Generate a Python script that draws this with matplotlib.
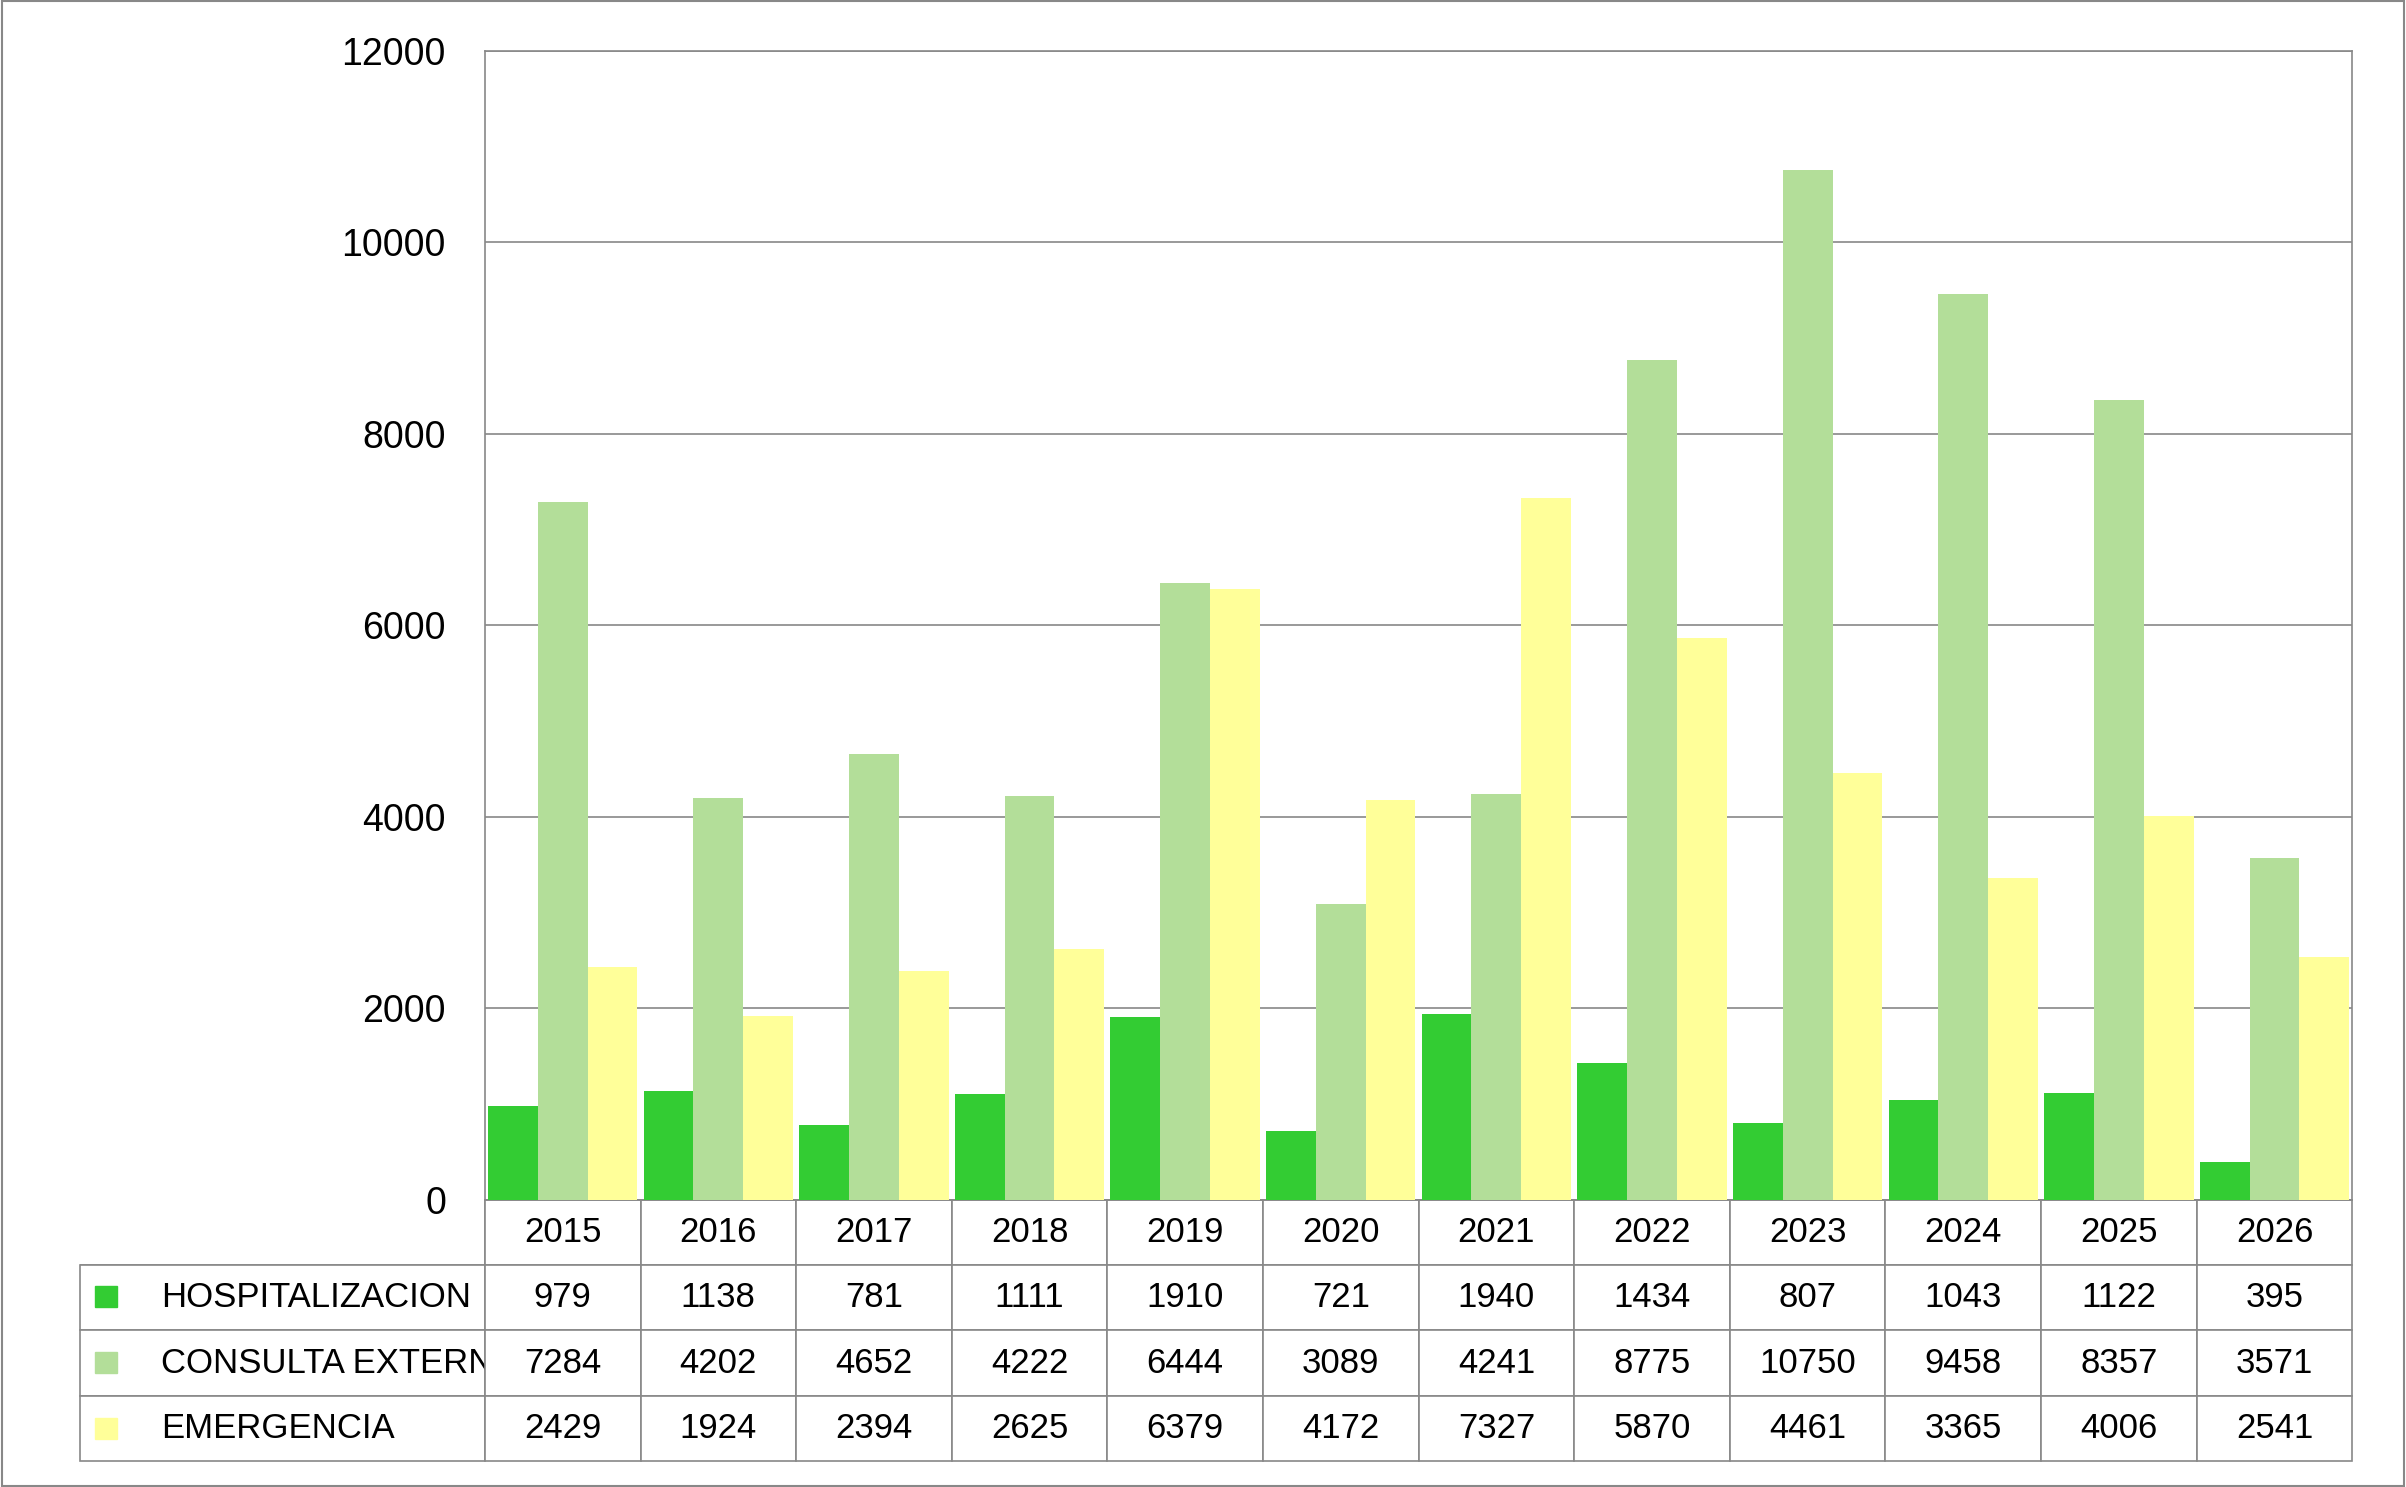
import matplotlib
matplotlib.use("Agg")
import matplotlib.pyplot as plt
from matplotlib.patches import Rectangle
import numpy as np

plt.rcParams['font.family'] = ['Liberation Sans', 'DejaVu Sans']

years = ['2015','2016','2017','2018','2019','2020','2021','2022','2023','2024','2025','2026']
series_names = ['HOSPITALIZACION', 'CONSULTA EXTERNA', 'EMERGENCIA']
hosp = [979,1138,781,1111,1910,721,1940,1434,807,1043,1122,395]
cons = [7284,4202,4652,4222,6444,3089,4241,8775,10750,9458,8357,3571]
emer = [2429,1924,2394,2625,6379,4172,7327,5870,4461,3365,4006,2541]
colors = ['#33CC33', '#B3DE99', '#FFFF99']

W, H = 2406, 1487
fig = plt.figure(figsize=(W/100, H/100), dpi=100)
sx, sy = W/1568, H/969
L, R, T, B = 316, 1533, 33, 782
ax = fig.add_axes([L/1568, 1-B/969, (R-L)/1568, (B-T)/969])
x = np.arange(len(years))
bw = 0.32
for i, (vals, c) in enumerate(zip([hosp, cons, emer], colors)):
    ax.bar(x + (i-1)*bw, vals, bw, color=c, zorder=3)
ax.set_xlim(-0.5, 11.5)
ax.set_ylim(0, 12000)
ax.set_yticks(range(0, 12001, 2000))
ax.tick_params(axis='y', labelsize=27, length=0, pad=28)
ax.set_xticks([])
ax.grid(axis='y', color='#888888', linewidth=1.2, zorder=0)
for s in ax.spines.values():
    s.set_color('#888888'); s.set_linewidth(1.2)

# table
rows = [[''] + years]
for n, v in zip(series_names, [hosp, cons, emer]):
    rows.append([n] + [str(a) for a in v])
axw = R - L; axh = B - T
tl = 52
lblw = L - tl
tab = ax.table(cellText=rows, cellLoc='center',
               bbox=[(tl-L)/axw, -(952-782)/axh, (R-tl)/axw, 170/axh],
               colWidths=[lblw/axw] + [1/12]*12)
tab.auto_set_font_size(False)
for (r, c), cell in tab.get_celld().items():
    cell.set_edgecolor('#888888'); cell.set_linewidth(1.2)
    cell.get_text().set_fontsize(25)
    if r == 0 and c == 0:
        cell.visible_edges = 'BR'
    if c == 0 and r > 0:
        cell.get_text().set_ha('left')
        cell._loc = 'left'
        cell.PAD = 0.2
for i, c in enumerate(colors):
    yc = 1 - (845 + 43*i)/969
    fig.patches.append(Rectangle((62/1568, yc - 7/969), 14/1568, 14/969,
                                 transform=fig.transFigure, color=c, figure=fig))
fig.patches.append(Rectangle((0.001, 0.001), 0.998, 0.998, transform=fig.transFigure,
                             fill=False, edgecolor='#888888', linewidth=1.5, figure=fig))
fig.savefig('out.png', dpi=100)
